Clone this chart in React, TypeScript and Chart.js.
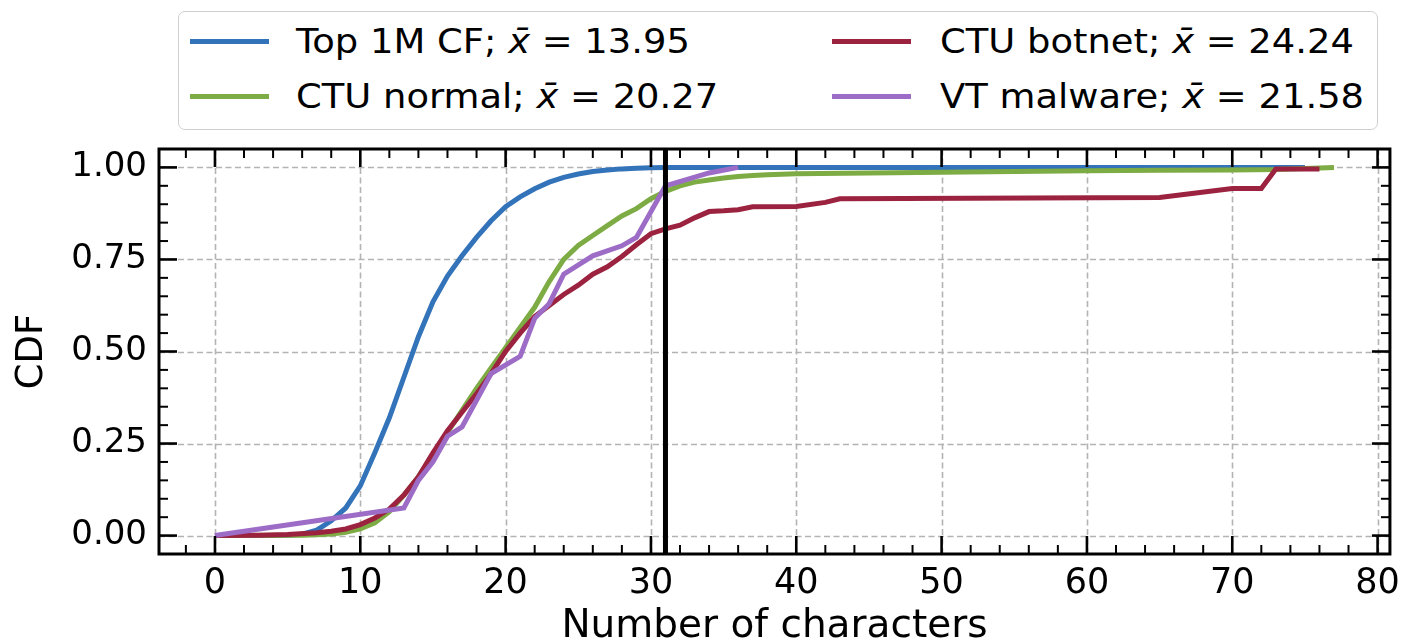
import React, { useEffect, useRef } from "react";
import { Chart, registerables } from "chart.js";

Chart.register(...registerables);

const FONT = "'DejaVu Sans', 'Liberation Sans', sans-serif";

// ---- data ----
const seriesNames = ["Top 1M CF", "CTU normal", "CTU botnet", "VT malware"];
const seriesMeans = ["13.95", "20.27", "24.24", "21.58"];
const seriesColors = ["#3373b9", "#7dab44", "#9b2340", "#9c6cc6"];

const topX = [0, 4, 5, 6, 7, 8, 9, 10, 11, 12, 13, 14, 15, 16, 17, 18, 19, 20, 21, 22, 23, 24, 25, 26, 27, 28, 29, 30, 31, 75];
const topY = [0, 0, 0.001, 0.004, 0.015, 0.04, 0.075, 0.135, 0.225, 0.32, 0.43, 0.54, 0.635, 0.705, 0.76, 0.81, 0.855, 0.893, 0.92, 0.942, 0.96, 0.973, 0.982, 0.989, 0.993, 0.996, 0.998, 0.999, 1.0, 1.0];

const normalX = [0, 6, 7, 8, 9, 10, 11, 12, 13, 14, 15, 16, 17, 18, 19, 20, 21, 22, 23, 24, 25, 26, 27, 28, 29, 30, 31, 32, 33, 34, 35, 36, 37, 38, 40, 45, 50, 55, 60, 65, 70, 73, 77];
const normalY = [0, 0.001, 0.002, 0.004, 0.009, 0.018, 0.035, 0.065, 0.11, 0.16, 0.22, 0.28, 0.34, 0.4, 0.455, 0.51, 0.565, 0.62, 0.69, 0.75, 0.788, 0.815, 0.842, 0.868, 0.888, 0.915, 0.935, 0.95, 0.96, 0.966, 0.971, 0.975, 0.978, 0.98, 0.983, 0.985, 0.987, 0.989, 0.991, 0.992, 0.993, 0.994, 1.0];

const botnetX = [0, 3, 5, 7, 8, 9, 10, 11, 12, 13, 14, 15, 16, 17, 18, 19, 20, 21, 22, 23, 24, 25, 26, 27, 28, 29, 30, 31, 32, 33, 34, 35, 36, 37, 40, 42, 43, 65, 70, 72, 73, 76];
const botnetY = [0, 0.001, 0.003, 0.008, 0.012, 0.018, 0.03, 0.048, 0.072, 0.11, 0.16, 0.225, 0.285, 0.335, 0.385, 0.44, 0.5, 0.55, 0.595, 0.625, 0.655, 0.68, 0.71, 0.73, 0.758, 0.79, 0.82, 0.833, 0.843, 0.863, 0.88, 0.882, 0.885, 0.893, 0.894, 0.905, 0.915, 0.918, 0.943, 0.943, 0.996, 0.996];

const malwareX = [0, 13, 14, 15, 16, 17, 19, 21, 22, 23, 24, 26, 28, 29, 31, 34, 36];
const malwareY = [0, 0.075, 0.15, 0.2, 0.27, 0.295, 0.44, 0.487, 0.59, 0.63, 0.71, 0.76, 0.787, 0.81, 0.95, 0.985, 1.0];

const thresholdX = 31;

const xMajorTicks = [0, 10, 20, 30, 40, 50, 60, 70, 80];
const xMinorTicks = [-2, 2, 4, 6, 8, 12, 14, 16, 18, 22, 24, 26, 28, 32, 34, 36, 38, 42, 44, 46, 48, 52, 54, 56, 58, 62, 64, 66, 68, 72, 74, 76, 78];
const yMajorTicks = [0, 0.25, 0.5, 0.75, 1.0];
const yMinorTicks = [0.05, 0.1, 0.15, 0.2, 0.3, 0.35, 0.4, 0.45, 0.55, 0.6, 0.65, 0.7, 0.8, 0.85, 0.9, 0.95];

const xLimits = [-3.85, 80.85];
const yLimits = [-0.05, 1.05];

const xTitle = "Number of characters";
const yTitle = "CDF";

const seriesX = [topX, normalX, botnetX, malwareX];
const seriesY = [topY, normalY, botnetY, malwareY];

const frameAndGrid = {
  id: "frameAndGrid",
  beforeDatasetsDraw(chart: any) {
    const { ctx, chartArea: a, scales } = chart;
    const xs = scales.x, ys = scales.y;
    ctx.save();
    ctx.strokeStyle = "#b3b3b3";
    ctx.lineWidth = 1.6;
    ctx.setLineDash([6, 3.5]);
    for (const v of xMajorTicks) {
      const px = Math.round(xs.getPixelForValue(v)) + 0.5;
      ctx.beginPath(); ctx.moveTo(px, a.top); ctx.lineTo(px, a.bottom); ctx.stroke();
    }
    for (const v of yMajorTicks) {
      const py = Math.round(ys.getPixelForValue(v)) + 0.5;
      ctx.beginPath(); ctx.moveTo(a.left, py); ctx.lineTo(a.right, py); ctx.stroke();
    }
    ctx.restore();
  },
  afterDatasetsDraw(chart: any) {
    const { ctx, chartArea: a, scales } = chart;
    const xs = scales.x, ys = scales.y;
    ctx.save();
    ctx.setLineDash([]);
    ctx.strokeStyle = "#000";
    const tick = (x1: number, y1: number, x2: number, y2: number, w: number) => {
      ctx.lineWidth = w;
      ctx.beginPath(); ctx.moveTo(x1, y1); ctx.lineTo(x2, y2); ctx.stroke();
    };
    const MAJ = 18, MIN = 9;
    for (const v of xMajorTicks) {
      const px = xs.getPixelForValue(v);
      tick(px, a.bottom, px, a.bottom - MAJ, 2.6);
      tick(px, a.top, px, a.top + MAJ, 2.6);
    }
    for (const v of xMinorTicks) {
      const px = xs.getPixelForValue(v);
      tick(px, a.bottom, px, a.bottom - MIN, 2);
      tick(px, a.top, px, a.top + MIN, 2);
    }
    for (const v of yMajorTicks) {
      const py = ys.getPixelForValue(v);
      tick(a.left, py, a.left + MAJ, py, 2.6);
      tick(a.right, py, a.right - MAJ, py, 2.6);
    }
    for (const v of yMinorTicks) {
      const py = ys.getPixelForValue(v);
      tick(a.left, py, a.left + MIN, py, 2);
      tick(a.right, py, a.right - MIN, py, 2);
    }
    ctx.lineWidth = 3;
    ctx.strokeRect(a.left, a.top, a.right - a.left, a.bottom - a.top);
    ctx.restore();
  },
};

function Legend() {
  const cols = [
    { line: 190, text: 296 },
    { line: 832, text: 940 },
  ];
  const rows = [41, 96];
  return (
    <div>
      <div
        style={{
          position: "absolute",
          left: 178,
          top: 11,
          width: 1200,
          height: 119,
          border: "1.5px solid #cfcfcf",
          borderRadius: 7,
          background: "#fff",
          boxSizing: "border-box",
        }}
      />
      {seriesNames.map((name, i) => {
        const c = cols[Math.floor(i / 2)];
        const r = rows[i % 2];
        return (
          <React.Fragment key={name}>
            <div
              style={{
                position: "absolute",
                left: c.line,
                top: r - 2.5,
                width: 79,
                height: 5,
                background: seriesColors[i],
              }}
            />
            <div
              style={{
                position: "absolute",
                left: c.text,
                top: r - 22,
                height: 44,
                display: "flex",
                alignItems: "center",
                fontFamily: FONT,
                fontSize: 34,
                color: "#000",
                whiteSpace: "pre",
                transformOrigin: "left center",
                transform: "scaleX(1.085)",
              }}
            >
              {name + "; "}
              <i>{"x\u0304"}</i>
              {" = " + seriesMeans[i]}
            </div>
          </React.Fragment>
        );
      })}
    </div>
  );
}

export default function App() {
  const ref = useRef<HTMLCanvasElement>(null);
  useEffect(() => {
    document.body.style.margin = "0";
    const datasets: any[] = seriesNames.map((name, i) => ({
      label: name,
      data: seriesX[i].map((x, j) => ({ x, y: seriesY[i][j] })),
      borderColor: seriesColors[i],
      backgroundColor: seriesColors[i],
      borderWidth: 5,
      pointRadius: 0,
      tension: 0,
      fill: false,
      order: 10 - i,
    }));
    datasets.push({
      label: "threshold",
      data: [
        { x: thresholdX, y: yLimits[0] },
        { x: thresholdX, y: yLimits[1] },
      ],
      borderColor: "#000",
      borderWidth: 5,
      pointRadius: 0,
      order: 1,
    });
    const chart = new Chart(ref.current!, {
      type: "line",
      data: { datasets },
      plugins: [frameAndGrid],
      options: {
        animation: false,
        responsive: false,
        devicePixelRatio: 1,
        layout: { padding: { left: 0, right: 15, top: 149, bottom: 0 } },
        plugins: { legend: { display: false }, tooltip: { enabled: false } },
        scales: {
          x: {
            type: "linear",
            min: xLimits[0],
            max: xLimits[1],
            afterBuildTicks: (s: any) => {
              s.ticks = xMajorTicks.map((v) => ({ value: v }));
            },
            afterFit: (s: any) => {
              s.height = 90;
            },
            grid: { display: false, drawTicks: false },
            border: { display: false },
            ticks: {
              color: "#000",
              padding: 9,
              maxRotation: 0,
              font: { family: FONT, size: 35 },
              callback: (v: any) => String(v),
            },
            title: {
              display: true,
              text: xTitle,
              color: "#000",
              font: { family: FONT, size: 39 },
              padding: { top: 0, bottom: -6 },
            },
          },
          y: {
            type: "linear",
            min: yLimits[0],
            max: yLimits[1],
            afterBuildTicks: (s: any) => {
              s.ticks = yMajorTicks.map((v) => ({ value: v }));
            },
            afterFit: (s: any) => {
              s.width = 159;
            },
            grid: { display: false, drawTicks: false },
            border: { display: false },
            ticks: {
              color: "#000",
              padding: 12,
              font: { family: FONT, size: 34 },
              callback: (v: any) => Number(v).toFixed(2),
            },
            title: {
              display: true,
              text: yTitle,
              color: "#000",
              font: { family: FONT, size: 37 },
              padding: { top: 10, bottom: 0 },
            },
          },
        },
      } as any,
    });
    return () => chart.destroy();
  }, []);
  return (
    <div style={{ position: "relative", width: 1409, height: 644, background: "#fff", overflow: "hidden" }}>
      <canvas ref={ref} width={1409} height={644} style={{ position: "absolute", left: 0, top: 0, width: 1409, height: 644 }} />
      <Legend />
    </div>
  );
}
